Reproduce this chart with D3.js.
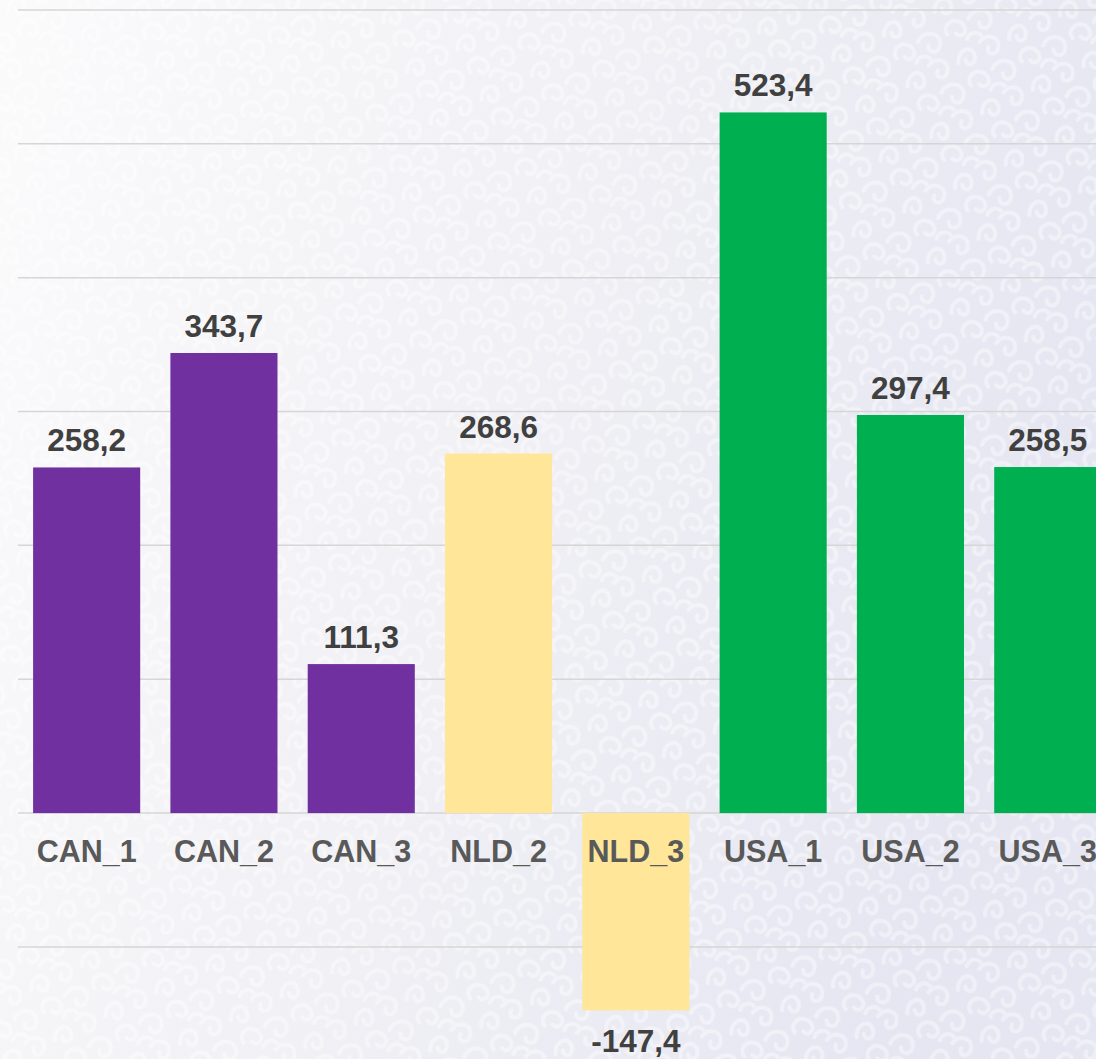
<!DOCTYPE html>
<html>
<head>
<meta charset="utf-8">
<script src="https://cdn.jsdelivr.net/npm/d3@7"></script>
<style>
  html, body { margin: 0; padding: 0; overflow: hidden; }
</style>
</head>
<body>
<div id="chart"></div>
<script>
const categories = ['CAN_1', 'CAN_2', 'CAN_3', 'NLD_2', 'NLD_3', 'USA_1', 'USA_2', 'USA_3'];
const values = [258.2, 343.7, 111.3, 268.6, -147.4, 523.4, 297.4, 258.5];
const groups = ['CAN', 'CAN', 'CAN', 'NLD', 'NLD', 'USA', 'USA', 'USA'];
const yTicks = [-100, 0, 100, 200, 300, 400, 500, 600];

const width = 1096;
const height = 1059;

const colour = d3.scaleOrdinal()
  .domain(['CAN', 'NLD', 'USA'])
  .range(['#7030a0', '#ffe699', '#00b050']);

const svg = d3.select('#chart')
  .append('svg')
  .attr('width', width)
  .attr('height', height);

// background: soft gradient + curly pattern
const defs = svg.append('defs');
const grad = defs.append('linearGradient')
  .attr('id', 'bg').attr('x1', 0).attr('y1', 0).attr('x2', 1).attr('y2', 0.3);
grad.append('stop').attr('offset', 0).attr('stop-color', '#fbfbfc');
grad.append('stop').attr('offset', 0.45).attr('stop-color', '#f2f2f6');
grad.append('stop').attr('offset', 1).attr('stop-color', '#e5e6f1');

const pat = defs.append('pattern')
  .attr('id', 'curls').attr('patternUnits', 'userSpaceOnUse')
  .attr('width', 56).attr('height', 56)
  .attr('patternTransform', 'rotate(-25)');
const curl = [
  'M2,14 C6,2 22,2 20,14 C18,24 8,22 10,14',
  'M30,4 C40,-2 52,8 44,18 C38,24 30,18 36,12',
  'M4,40 C2,28 18,26 22,36 C26,46 14,50 12,42',
  'M30,34 C38,26 54,32 50,44 C46,54 34,50 38,42',
  'M20,52 C26,46 36,50 34,58'
];
pat.selectAll('path')
  .data(curl)
  .join('path')
  .attr('d', d => d)
  .attr('fill', 'none')
  .attr('stroke', '#ffffff')
  .attr('stroke-width', 4)
  .attr('stroke-opacity', 0.4)
  .attr('stroke-linecap', 'round');

svg.append('rect').attr('width', width).attr('height', height).attr('fill', 'url(#bg)');
svg.append('rect').attr('width', width).attr('height', height).attr('fill', 'url(#curls)');

const x = d3.scaleBand()
  .domain(categories)
  .range([18, 1116.4])
  .paddingInner(0.22)
  .paddingOuter(0.11);

const y = d3.scaleLinear()
  .domain([-200, 600])
  .range([1080.8, 9.9]);

// gridlines
svg.append('g')
  .selectAll('line')
  .data(yTicks)
  .join('line')
  .attr('x1', 18)
  .attr('x2', width)
  .attr('y1', d => y(d))
  .attr('y2', d => y(d))
  .attr('stroke', '#d6d6d6')
  .attr('stroke-width', 1.5);

// bars
svg.append('g')
  .selectAll('rect')
  .data(values)
  .join('rect')
  .attr('x', (d, i) => x(categories[i]))
  .attr('y', d => y(Math.max(0, d)))
  .attr('width', x.bandwidth())
  .attr('height', d => Math.abs(y(d) - y(0)))
  .attr('fill', (d, i) => colour(groups[i]));

const fmt = v => d3.format('.1f')(v).replace('.', ',').replace('\u2212', '-');

// value labels
svg.append('g')
  .selectAll('text')
  .data(values)
  .join('text')
  .attr('x', (d, i) => x(categories[i]) + x.bandwidth() / 2)
  .attr('y', d => d >= 0 ? y(d) - 16 : y(d) + 42)
  .attr('text-anchor', 'middle')
  .attr('font-family', 'Liberation Sans, Arial, sans-serif')
  .attr('font-weight', 'bold')
  .attr('font-size', '31.5px')
  .attr('fill', '#404040')
  .text(d => fmt(d));

// category axis labels
svg.append('g')
  .selectAll('text')
  .data(categories)
  .join('text')
  .attr('x', d => x(d) + x.bandwidth() / 2)
  .attr('y', y(0) + 49)
  .attr('text-anchor', 'middle')
  .attr('font-family', 'Liberation Sans, Arial, sans-serif')
  .attr('font-weight', 'bold')
  .attr('font-size', '30.5px')
  .attr('fill', '#595959')
  .text(d => d);
</script>
</body>
</html>
